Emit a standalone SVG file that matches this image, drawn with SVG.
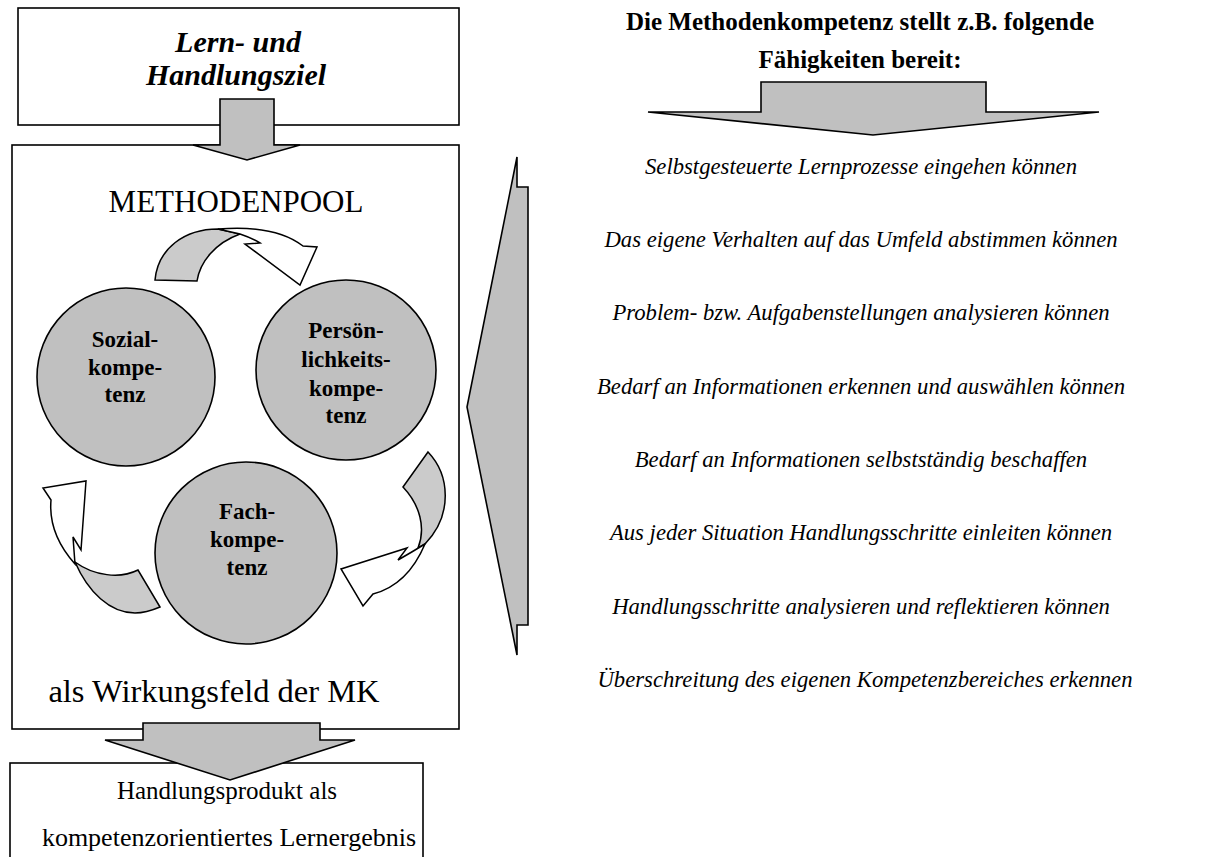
<svg xmlns="http://www.w3.org/2000/svg" width="1205" height="857" viewBox="0 0 1205 857">
<style>
.box{fill:#fff;stroke:#000;stroke-width:1.6}
.big{fill:#c0c0c0;stroke:#000;stroke-width:1.6;stroke-linejoin:miter}
.circ{fill:#c0c0c0;stroke:#000;stroke-width:1.6}
.cg{fill:#cbcbcb;stroke:#000;stroke-width:1.5;stroke-linejoin:miter}
.cw{fill:#fff;stroke:#000;stroke-width:1.5;stroke-linejoin:miter}
text{font-family:"Liberation Serif","Times New Roman",serif;fill:#000;text-anchor:middle}
.bi{font-weight:bold;font-style:italic;font-size:30px}
.reg{font-size:31px}
.reg2{font-size:25px}
.cb{font-weight:bold;font-size:23px}
.tb{font-weight:bold;font-size:25px}
.it{font-style:italic;font-size:22.7px}
</style>
<rect width="1205" height="857" fill="#fff"/>
<g id="ziel">
<rect class="box" x="18" y="8" width="441" height="117"/>
<text class="bi" x="238" y="52">Lern- und</text>
<text class="bi" x="236" y="85">Handlungsziel</text>
</g>
<g id="methodenpool">
<rect class="box" x="12" y="145" width="447" height="584"/>
<text class="reg" x="236" y="212">METHODENPOOL</text>
<text class="reg" x="214" y="702" style="font-size:32.5px">als Wirkungsfeld der MK</text>
</g>
<g id="produkt">
<rect class="box" x="10" y="763" width="413" height="120"/>
<text class="reg2" x="227" y="799">Handlungsprodukt als</text>
<text class="reg2" x="229" y="846" style="font-size:26px">kompetenzorientiertes Lernergebnis</text>
</g>
<g id="sozial">
<circle class="circ" cx="126" cy="377" r="89"/>
<text class="cb" x="125" y="347">Sozial-</text>
<text class="cb" x="125" y="375">kompe-</text>
<text class="cb" x="125" y="402">tenz</text>
</g>
<g id="persoenlichkeit">
<circle class="circ" cx="346" cy="370" r="90"/>
<text class="cb" x="346" y="338">Persön-</text>
<text class="cb" x="346" y="367">lichkeits-</text>
<text class="cb" x="346" y="396">kompe-</text>
<text class="cb" x="346" y="423">tenz</text>
</g>
<g id="fach">
<circle class="circ" cx="246" cy="553" r="91"/>
<text class="cb" x="247" y="519">Fach-</text>
<text class="cb" x="247" y="547">kompe-</text>
<text class="cb" x="247" y="575">tenz</text>
</g>
<g id="faehigkeiten">
<text class="tb" x="860" y="30">Die Methodenkompetenz stellt z.B. folgende</text>
<text class="tb" x="860" y="68">Fähigkeiten bereit:</text>
<text class="it" x="861" y="174">Selbstgesteuerte Lernprozesse eingehen können</text>
<text class="it" x="861" y="247">Das eigene Verhalten auf das Umfeld abstimmen können</text>
<text class="it" x="861" y="320">Problem- bzw. Aufgabenstellungen analysieren können</text>
<text class="it" x="861" y="394">Bedarf an Informationen erkennen und auswählen können</text>
<text class="it" x="861" y="467">Bedarf an Informationen selbstständig beschaffen</text>
<text class="it" x="861" y="540">Aus jeder Situation Handlungsschritte einleiten können</text>
<text class="it" x="861" y="614">Handlungsschritte analysieren und reflektieren können</text>
<text class="it" x="865" y="687">Überschreitung des eigenen Kompetenzbereiches erkennen</text>
</g>
<g id="connectors">
<path class="big" d="M220,99 L274,99 L274,145 L300,145 L247,160 L193,145 L220,145 Z"/>
<path class="big" d="M143,723 L320,723 L320,740 L355,740 L230,780 L105,740 L143,740 Z"/>
<path class="big" d="M761,82 L986,82 L986,112 L1099,112 L873,135 L648,112 L761,112 Z"/>
<path class="big" d="M528,187 L528,625 L517,625 L517,655 L467,407 L517,157 L517,187 Z"/>
<path class="cg" d="M155,280 C158,248 185,229 218,229 L240,234 C215,243 200,262 197,281 Z"/>
<path class="cw" d="M218,229 C255,226 285,232 303,246 L317,247 L300,285 L245,244 L260,243 C252,238 246,236 240,234 Z"/>
<path class="cg" d="M75,562 C88,592 110,613 135,613 C145,613 153,610 160,607 L138,570 C120,579 94,576 75,562 Z"/>
<path class="cw" d="M75,564 L73,537 L81,550 L86,481 L43,488 L51,500 C49,523 58,545 75,564 Z"/>
<path class="cg" d="M428,452 C450,475 453,515 425,544 L418,548 C426,528 420,505 403,487 Z"/>
<path class="cw" d="M425,544 C412,552 405,556 398,560 L407,548 L341,569 L363,606 L373,594 C396,588 414,570 425,544 Z"/>
</g>
</svg>
